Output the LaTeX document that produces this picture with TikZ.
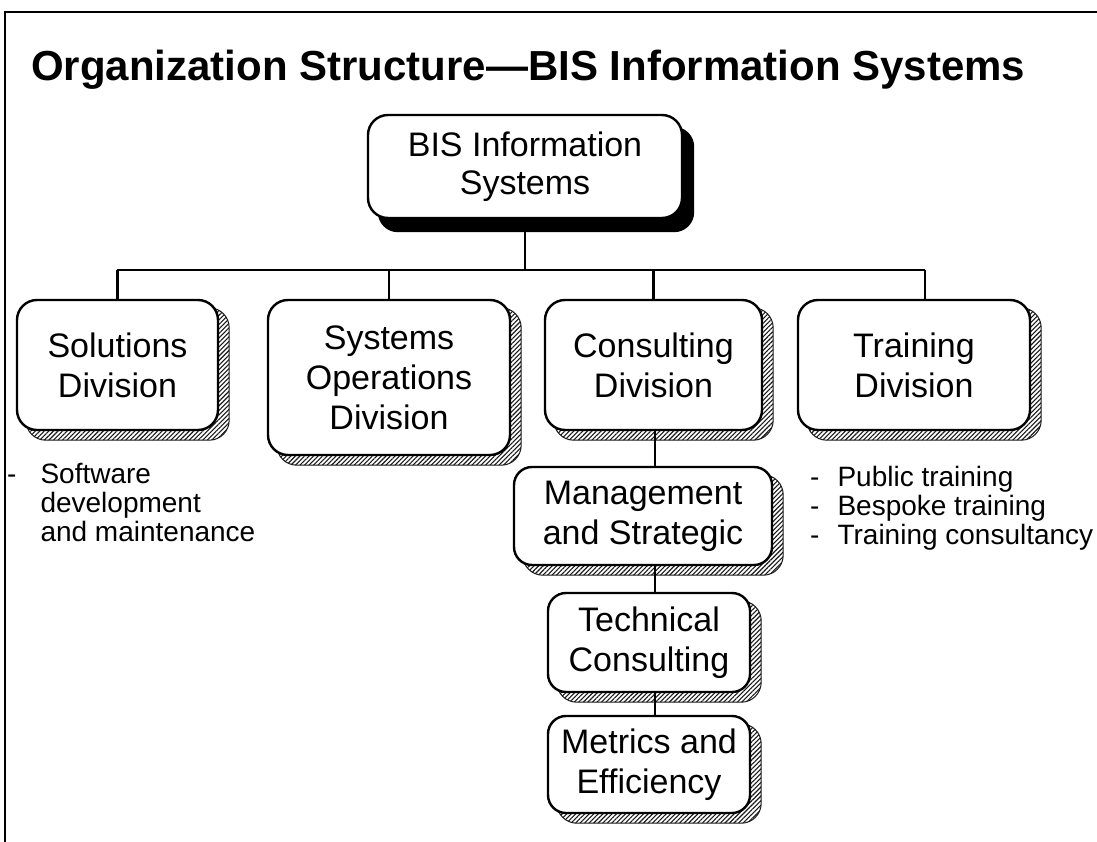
\documentclass[tikz,border=0pt]{standalone}
\usepackage{fontspec}
\setmainfont{Liberation Sans}
\usetikzlibrary{patterns.meta,backgrounds}
\begin{document}
\begin{tikzpicture}[x=1pt,y=-1pt,
  unit/.style={draw, line width=2.4pt, fill=white, rounded corners=20pt,
    align=center, inner sep=0pt, font=\fontsize{34}{40}\selectfont},
  link/.style={line width=2.4pt},
  frameline/.style={line width=2.6pt},
  hatchshade/.style={pattern={Lines[angle=45, distance=3.2pt, line width=1.1pt]},
    pattern color=black!90, draw=black!90, line width=1pt, rounded corners=20pt},
  solidshade/.style={fill=black, rounded corners=20pt},
  listtext/.style={anchor=base west, inner sep=0pt, font=\fontsize{28}{29}\selectfont}
]
\useasboundingbox (0,0) rectangle (1097,842);

% page frame (top and left rules)
\coordinate (fTL) at (5,12);
\coordinate (fTR) at (1097,12);
\coordinate (fBL) at (5,842);
\draw[frameline] (fBL) -- (fTL) -- (fTR);

% title
\node[anchor=base west, inner sep=0pt, font=\bfseries\fontsize{42}{48}\selectfont]
  (title) at (31,81) {Organization Structure—BIS Information Systems};

% boxes
\node[unit, minimum width=314pt, minimum height=103pt, font=\fontsize{34}{38}\selectfont]
  (top) at (525,166.5) {BIS Information\\Systems};
\node[unit, minimum width=201pt, minimum height=130pt] (sol) at (117.5,365) {Solutions\\Division};
\node[unit, minimum width=242pt, minimum height=155pt] (ops) at (389,377.5) {Systems\\Operations\\Division};
\node[unit, minimum width=217pt, minimum height=130pt] (con) at (653.5,365) {Consulting\\Division};
\node[unit, minimum width=232pt, minimum height=130pt] (trn) at (914,365) {Training\\Division};
\node[unit, minimum width=258pt, minimum height=98pt, rounded corners=18pt] (mgt) at (643,516) {Management\\and Strategic};
\node[unit, minimum width=202pt, minimum height=99pt, rounded corners=18pt] (tec) at (649,642.5) {Technical\\Consulting};
\node[unit, minimum width=202pt, minimum height=97pt, rounded corners=18pt] (met) at (649,764.5) {Metrics and\\Efficiency};

% shadows behind the boxes
\begin{scope}[on background layer]
  \path[solidshade] ([shift={(11,13)}]top.north west) rectangle ([shift={(11,13)}]top.south east);
  \foreach \b in {sol,ops,con,trn,mgt,tec,met}
    \path[hatchshade] ([shift={(10,9)}]\b.north west) rectangle ([shift={(10,9)}]\b.south east);
\end{scope}

% connectors
\coordinate (busL) at (117,270);
\coordinate (busR) at (925,270);
\coordinate (spine) at (655,440);
\draw[link] (busL) -- (busR);
\draw[link] (top.south) -- (top.south |- busL);
\draw[link] (sol.north) -- (sol.north |- busL);
\draw[link] (ops.north) -- (ops.north |- busL);
\draw[link] (con.north) -- (con.north |- busL);
\draw[link] (busR) -- (busR |- trn.north);
\draw[link] (con.south -| spine) -- (mgt.north -| spine);
\draw[link] (mgt.south -| spine) -- (tec.north -| spine);
\draw[link] (tec.south -| spine) -- (met.north -| spine);

% notes under the divisions
\node[listtext] (swlist) at (7,483)
  {\begin{tabular}[t]{@{}l@{\hspace{24pt}}l@{}}-&Software\\&development\\&and maintenance\end{tabular}};
\node[listtext] (trlist) at (810,486)
  {\begin{tabular}[t]{@{}l@{\hspace{18pt}}l@{}}-&Public training\\-&Bespoke training\\-&Training consultancy\end{tabular}};
\end{tikzpicture}
\end{document}
